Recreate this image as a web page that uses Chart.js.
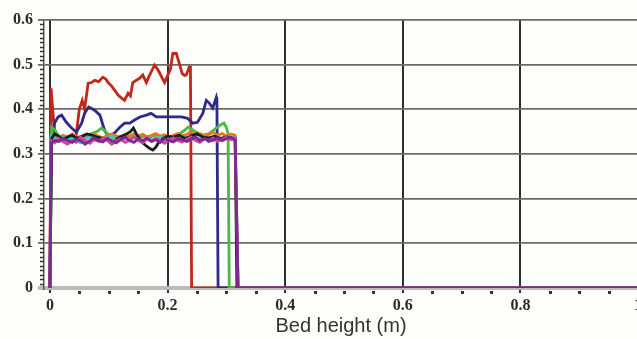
<!DOCTYPE html>
<html>
<head>
<meta charset="utf-8">
<script src="https://cdn.jsdelivr.net/npm/chart.js@4"></script>
<style>
  html, body { margin: 0; padding: 0; background: #fdfdfa; overflow: hidden; }
  canvas { display: block; }
</style>
</head>
<body>
<canvas id="grafico" width="645" height="339"></canvas>
<script>
// valores (altura do leito em m)
const xTickVals = [0, 0.2, 0.4, 0.6, 0.8, 1];
const yTickVals = [0, 0.1, 0.2, 0.3, 0.4, 0.5, 0.6];

const redX = [0, 0.002, 0.006, 0.01, 0.016, 0.022, 0.03, 0.038, 0.045, 0.05, 0.055, 0.059, 0.065, 0.071, 0.076, 0.083, 0.09, 0.095, 0.099, 0.105, 0.11, 0.116, 0.122, 0.127, 0.133, 0.137, 0.141, 0.147, 0.153, 0.158, 0.164, 0.168, 0.172, 0.178, 0.183, 0.186, 0.191, 0.195, 0.2, 0.205, 0.209, 0.215, 0.22, 0.225, 0.229, 0.232, 0.237, 0.239, 0.241, 1.0];
const redY = [0, 0.447, 0.38, 0.335, 0.33, 0.34, 0.335, 0.33, 0.345, 0.4, 0.42, 0.4, 0.458, 0.46, 0.465, 0.462, 0.472, 0.468, 0.46, 0.452, 0.443, 0.432, 0.425, 0.42, 0.436, 0.43, 0.46, 0.465, 0.47, 0.477, 0.46, 0.472, 0.483, 0.499, 0.49, 0.483, 0.47, 0.46, 0.475, 0.49, 0.525, 0.525, 0.503, 0.48, 0.476, 0.477, 0.495, 0.495, 0, 0];

const blueX = [0, 0.003, 0.008, 0.014, 0.02, 0.028, 0.037, 0.045, 0.054, 0.059, 0.066, 0.071, 0.076, 0.085, 0.093, 0.1, 0.11, 0.119, 0.127, 0.136, 0.144, 0.153, 0.164, 0.172, 0.181, 0.192, 0.209, 0.224, 0.234, 0.243, 0.251, 0.26, 0.266, 0.271, 0.277, 0.283, 0.284, 0.286, 1.0];
const blueY = [0, 0.345, 0.369, 0.383, 0.387, 0.371, 0.358, 0.349, 0.369, 0.391, 0.405, 0.402, 0.398, 0.387, 0.353, 0.338, 0.347, 0.36, 0.369, 0.369, 0.376, 0.383, 0.387, 0.391, 0.383, 0.383, 0.383, 0.383, 0.38, 0.369, 0.371, 0.391, 0.42, 0.414, 0.403, 0.427, 0.42, 0, 0];

const greenX = [0, 0.003, 0.008, 0.015, 0.022, 0.03, 0.04, 0.05, 0.06, 0.07, 0.08, 0.088, 0.095, 0.102, 0.11, 0.12, 0.13, 0.14, 0.15, 0.16, 0.17, 0.18, 0.19, 0.2, 0.21, 0.22, 0.228, 0.235, 0.242, 0.25, 0.26, 0.27, 0.28, 0.29, 0.296, 0.3, 0.303, 0.305, 1.0];
const greenY = [0, 0.36, 0.355, 0.34, 0.335, 0.338, 0.34, 0.336, 0.34, 0.345, 0.35, 0.358, 0.35, 0.34, 0.335, 0.34, 0.338, 0.342, 0.336, 0.34, 0.338, 0.342, 0.34, 0.336, 0.34, 0.345, 0.352, 0.36, 0.355, 0.348, 0.342, 0.345, 0.355, 0.365, 0.369, 0.36, 0.345, 0, 0];

const blackX = [0, 0.003, 0.008, 0.015, 0.022, 0.03, 0.038, 0.046, 0.055, 0.063, 0.072, 0.08, 0.09, 0.1, 0.108, 0.115, 0.122, 0.13, 0.137, 0.142, 0.147, 0.152, 0.158, 0.164, 0.17, 0.175, 0.18, 0.186, 0.193, 0.2, 0.21, 0.22, 0.23, 0.24, 0.25, 0.26, 0.27, 0.28, 0.29, 0.3, 0.31, 0.315, 0.318, 1.0];
const blackY = [0, 0.335, 0.345, 0.34, 0.332, 0.338, 0.342, 0.335, 0.34, 0.345, 0.342, 0.338, 0.335, 0.33, 0.325, 0.335, 0.34, 0.345, 0.35, 0.358, 0.345, 0.335, 0.325, 0.318, 0.312, 0.309, 0.315, 0.328, 0.335, 0.34, 0.338, 0.342, 0.335, 0.34, 0.345, 0.338, 0.336, 0.34, 0.335, 0.338, 0.336, 0.335, 0, 0];

// as curvas do "bolo" perto de 0.33 usam o mesmo eixo x
const clusterX = [0, 0.002, 0.008, 0.015, 0.022, 0.03, 0.038, 0.045, 0.052, 0.06, 0.068, 0.075, 0.083, 0.09, 0.098, 0.105, 0.113, 0.12, 0.128, 0.135, 0.143, 0.15, 0.158, 0.165, 0.173, 0.18, 0.188, 0.195, 0.203, 0.21, 0.218, 0.225, 0.233, 0.24, 0.248, 0.255, 0.263, 0.27, 0.278, 0.285, 0.293, 0.3, 0.308, 0.315, 0.32, 1.0];
const magentaY = [0, 0.33, 0.325, 0.335, 0.328, 0.322, 0.33, 0.326, 0.338, 0.33, 0.324, 0.332, 0.328, 0.336, 0.33, 0.322, 0.33, 0.334, 0.326, 0.33, 0.338, 0.33, 0.325, 0.333, 0.328, 0.335, 0.33, 0.324, 0.332, 0.336, 0.33, 0.327, 0.333, 0.338, 0.33, 0.326, 0.334, 0.33, 0.336, 0.328, 0.333, 0.338, 0.332, 0.335, 0, 0];
const purpleY = [0, 0.325, 0.33, 0.328, 0.335, 0.33, 0.326, 0.333, 0.33, 0.322, 0.33, 0.336, 0.33, 0.327, 0.335, 0.33, 0.325, 0.332, 0.338, 0.33, 0.326, 0.334, 0.33, 0.336, 0.328, 0.332, 0.326, 0.334, 0.33, 0.327, 0.335, 0.332, 0.328, 0.333, 0.338, 0.33, 0.335, 0.328, 0.332, 0.336, 0.33, 0.334, 0.338, 0.33, 0, 0];
const cyanY = [0, 0.34, 0.335, 0.33, 0.338, 0.332, 0.336, 0.33, 0.325, 0.333, 0.338, 0.332, 0.335, 0.33, 0.336, 0.34, 0.333, 0.33, 0.336, 0.332, 0.338, 0.334, 0.33, 0.336, 0.332, 0.335, 0.338, 0.333, 0.336, 0.33, 0.334, 0.338, 0.335, 0.332, 0.336, 0.333, 0.338, 0.334, 0.33, 0.336, 0.333, 0.337, 0.334, 0.336, 0, 0];
const orangeY = [0, 0.335, 0.34, 0.336, 0.342, 0.338, 0.345, 0.34, 0.336, 0.342, 0.338, 0.344, 0.34, 0.336, 0.342, 0.345, 0.34, 0.337, 0.343, 0.339, 0.345, 0.34, 0.344, 0.338, 0.342, 0.346, 0.34, 0.343, 0.338, 0.342, 0.346, 0.34, 0.344, 0.35, 0.342, 0.346, 0.34, 0.344, 0.348, 0.342, 0.346, 0.34, 0.345, 0.342, 0, 0];

const pares = (xs, ys) => xs.map((x, i) => ({ x: x, y: ys[i] }));

function serie(xs, ys, cor) {
    return {
        data: pares(xs, ys),
        borderColor: cor,
        borderWidth: 2.8,
        pointRadius: 0,
        showLine: true,
        tension: 0
    };
}

// risquinhos menores nos eixos
const tracosMenores = {
    id: 'tracosMenores',
    afterDraw(chart) {
        const { ctx, chartArea, scales } = chart;
        ctx.save();
        ctx.strokeStyle = '#333';
        ctx.lineWidth = 1.5;
        for (let i = 1; i < 60; i++) {
            if (i % 10 === 0) continue;
            const py = Math.round(scales.y.getPixelForValue(i / 100)) + 0.5;
            ctx.beginPath();
            ctx.moveTo(chartArea.left - 4, py);
            ctx.lineTo(chartArea.left, py);
            ctx.stroke();
        }
        ctx.fillStyle = '#333';
        for (let i = 1; i < 20; i++) {
            if (i % 4 === 0) continue;
            const px = scales.x.getPixelForValue(i * 0.05);
            ctx.fillRect(Math.round(px) - 1, chartArea.bottom + 3, 3, 3);
        }
        ctx.restore();
    }
};

const ctx = document.getElementById('grafico').getContext('2d');
new Chart(ctx, {
    type: 'scatter',
    data: {
        datasets: [
            serie(clusterX, purpleY, '#7a2a90'),
            serie(clusterX, magentaY, '#d8409c'),
            serie(blackX, blackY, '#1e1e1e'),
            serie(clusterX, cyanY, '#3cc4d0'),
            serie(clusterX, orangeY, '#e8761e'),
            serie(greenX, greenY, '#4cb848'),
            serie(blueX, blueY, '#2e2a8a'),
            serie(redX, redY, '#c0281c')
        ]
    },
    options: {
        responsive: false,
        animation: false,
        layout: { padding: { top: 20, right: 5, left: 0, bottom: 0 } },
        plugins: { legend: { display: false }, tooltip: { enabled: false } },
        scales: {
            x: {
                type: 'linear',
                min: -0.01,
                max: 1,
                afterBuildTicks: s => { s.ticks = xTickVals.map(v => ({ value: v })); },
                afterFit: s => { s.height = 51; },
                grid: { color: '#2f2f2f', lineWidth: 2, tickLength: 5 },
                border: { color: '#bdb8bd', width: 4 },
                ticks: {
                    color: '#2a2a2a',
                    padding: 3,
                    maxRotation: 0,
                    font: { family: 'Liberation Serif', weight: 'bold', size: 16 },
                    callback: v => String(v)
                },
                title: {
                    display: true,
                    text: 'Bed height (m)',
                    color: '#333',
                    padding: { top: 0, bottom: 1 },
                    font: { family: 'Liberation Sans', size: 20 }
                }
            },
            y: {
                min: 0,
                max: 0.6,
                afterBuildTicks: s => { s.ticks = yTickVals.map(v => ({ value: v })); },
                afterFit: s => { s.width = 44; },
                grid: {
                    color: c => c.tick && c.tick.value === 0 ? '#bdb8bd' : '#6e6a6a',
                    lineWidth: c => c.tick && c.tick.value === 0 ? 4 : 1.8,
                    tickLength: 6
                },
                border: { color: '#555', width: 1.5 },
                ticks: {
                    color: '#2a2a2a',
                    padding: 5,
                    font: { family: 'Liberation Serif', weight: 'bold', size: 16 },
                    callback: v => String(v)
                }
            }
        }
    },
    plugins: [tracosMenores]
});
</script>
</body>
</html>
